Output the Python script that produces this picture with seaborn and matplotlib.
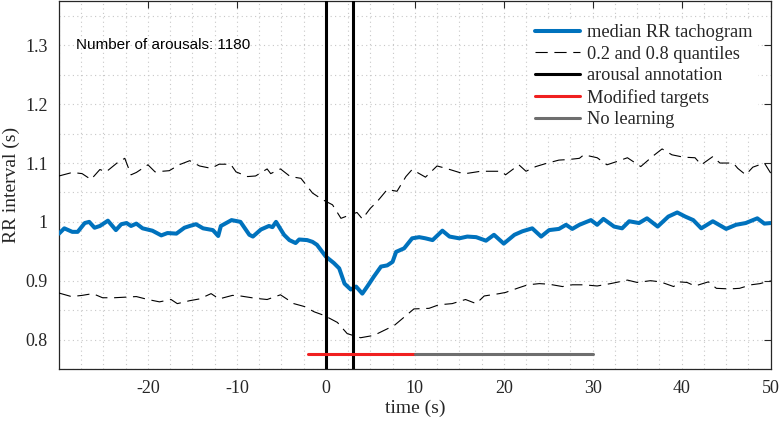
import numpy as np
import pandas as pd
import matplotlib
matplotlib.use("Agg")
import matplotlib.pyplot as plt
from matplotlib.ticker import MultipleLocator
import seaborn as sns

# median RR tachogram (time in s, RR in s)
med_t = [-30, -29.4, -28.5, -27.9, -27.1, -26.6, -26.0, -25.4, -24.5, -23.6, -23.0, -22.4,
         -21.9, -21.3, -20.6, -19.5, -18.5, -17.8, -16.8, -15.9, -15.3, -14.6, -13.8, -12.7,
         -12.1, -11.8, -10.6, -9.6, -8.6, -8.2, -7.3, -6.4, -6.0, -5.6, -4.7, -4.1, -3.4,
         -3.0, -2.1, -1.5, -1.0, 0.0, 0.9, 1.5, 2.1, 2.8, 3.4, 4.1, 4.7, 5.4, 6.2, 6.9, 7.5,
         7.9, 8.8, 9.7, 10.5, 11.2, 12.0, 13.1, 13.9, 15.0, 15.9, 16.9, 18.0, 18.9, 20.0,
         21.2, 22.1, 23.2, 24.2, 25.1, 26.2, 27.0, 27.7, 28.5, 29.8, 30.5, 31.2, 32.4, 33.3,
         34.1, 35.2, 36.1, 37.3, 38.5, 39.5, 40.4, 41.3, 42.2, 43.5, 45.0, 46.1, 47.2, 48.5,
         49.3, 50]
med_rr = [0.980, 0.989, 0.983, 0.983, 0.998, 1.000, 0.990, 0.993, 1.002, 0.986, 0.996, 0.998,
          0.993, 0.997, 0.989, 0.985, 0.977, 0.981, 0.980, 0.990, 0.993, 0.996, 0.989, 0.986,
          0.976, 0.993, 1.003, 1.000, 0.978, 0.975, 0.987, 0.993, 0.991, 1.000, 0.978, 0.969,
          0.964, 0.970, 0.969, 0.966, 0.961, 0.941, 0.930, 0.921, 0.895, 0.885, 0.890, 0.878,
          0.891, 0.907, 0.924, 0.926, 0.932, 0.949, 0.955, 0.972, 0.974, 0.972, 0.969, 0.985,
          0.975, 0.972, 0.975, 0.974, 0.968, 0.978, 0.963, 0.978, 0.984, 0.989, 0.975, 0.986,
          0.988, 0.995, 0.988, 0.995, 1.003, 0.995, 1.005, 0.992, 0.989, 1.001, 0.998, 1.006,
          0.992, 1.009, 1.016, 1.009, 1.003, 0.989, 1.001, 0.988, 0.995, 0.998, 1.006, 0.997,
          0.998]

# 0.8 quantile
q80_t = [-30, -28.5, -27.4, -26.4, -25.4, -24.7, -23.4, -22.6, -21.9, -21.3, -20.0, -19.2,
         -17.6, -16.5, -15.3, -14.2, -12.9, -12.0, -10.7, -10.1, -8.8, -7.9, -6.6, -6.2, -5.1,
         -4.0, -2.8, -1.5, -0.4, 0.75, 1.7, 2.4, 3.5, 4.1, 5.0, 5.8, 6.9, 8.0, 9.0, 9.7,
         11.2, 12.5, 13.5, 15.0, 15.7, 17.4, 18.4, 19.7, 20.2, 21.7, 22.5, 23.6, 24.7, 26.2,
         27.3, 28.5, 29.0, 30.5, 31.6, 32.8, 33.9, 35.4, 36.7, 37.8, 38.9, 40.2, 41.5, 42.2,
         43.5, 44.3, 45.8, 46.3, 47.2, 48.0, 49.3, 50]
q80_rr = [1.078, 1.084, 1.082, 1.072, 1.089, 1.085, 1.101, 1.108, 1.080, 1.084, 1.097, 1.085,
          1.087, 1.097, 1.104, 1.095, 1.091, 1.098, 1.098, 1.085, 1.077, 1.078, 1.090, 1.082,
          1.090, 1.077, 1.074, 1.049, 1.038, 1.029, 1.006, 1.010, 1.016, 1.005, 1.023, 1.035,
          1.055, 1.052, 1.077, 1.089, 1.076, 1.095, 1.091, 1.084, 1.082, 1.086, 1.086, 1.086,
          1.080, 1.097, 1.086, 1.094, 1.099, 1.105, 1.106, 1.108, 1.114, 1.109, 1.097, 1.103,
          1.109, 1.094, 1.111, 1.124, 1.114, 1.110, 1.109, 1.097, 1.111, 1.100, 1.100, 1.091,
          1.080, 1.093, 1.100, 1.083]

# 0.2 quantile
q20_t = [-30, -28.6, -27.4, -26.2, -25.1, -23.8, -22.5, -21.3, -20.0, -18.7, -17.4, -16.7,
         -15.3, -14.2, -12.9, -12.0, -10.5, -9.6, -7.9, -6.6, -5.1, -3.6, -2.4, -1.3, -0.2,
         1.3, 2.4, 3.9, 5.4, 7.7, 9.9, 11.6, 12.7, 14.2, 15.7, 16.9, 17.8, 19.5, 20.2, 21.7,
         22.7, 24.0, 25.1, 26.6, 27.7, 29.0, 30.5, 32.0, 33.9, 35.0, 36.5, 37.6, 39.1, 39.7,
         40.6, 41.5, 43.0, 43.9, 45.4, 46.5, 47.8, 48.8, 50]
q20_rr = [0.879, 0.873, 0.875, 0.878, 0.871, 0.871, 0.872, 0.873, 0.868, 0.864, 0.868, 0.861,
          0.866, 0.869, 0.878, 0.869, 0.875, 0.874, 0.870, 0.868, 0.876, 0.861, 0.856, 0.847,
          0.841, 0.829, 0.810, 0.803, 0.807, 0.824, 0.852, 0.853, 0.859, 0.861, 0.868, 0.861,
          0.874, 0.878, 0.880, 0.888, 0.893, 0.895, 0.894, 0.890, 0.893, 0.893, 0.891, 0.895,
          0.901, 0.897, 0.900, 0.898, 0.890, 0.898, 0.897, 0.891, 0.898, 0.887, 0.886, 0.887,
          0.893, 0.895, 0.900]

arousal_marks = [0, 3]
modified_span = [-2, 10]
nolearn_span = [10, 30]
target_level = 0.775
n_arousals = 1180

med = pd.DataFrame({"t": med_t, "rr": med_rr})
q80 = pd.DataFrame({"t": q80_t, "rr": q80_rr})
q20 = pd.DataFrame({"t": q20_t, "rr": q20_rr})

sns.set_style("white")
plt.rcParams["font.family"] = ["Liberation Serif", "DejaVu Serif"]
plt.rcParams["xtick.direction"] = "in"
plt.rcParams["ytick.direction"] = "in"

fig = plt.figure(figsize=(7.8, 4.26), dpi=100)
ax = fig.add_axes([0.0756, 0.134, 0.9124, 0.863])

dash = (0, (11, 6))
sns.lineplot(data=med, x="t", y="rr", ax=ax, color="#0072BD", lw=2.9, sort=False,
             label="median RR tachogram", zorder=4)
sns.lineplot(data=q80, x="t", y="rr", ax=ax, color="black", lw=0.8, sort=False,
             label="0.2 and 0.8 quantiles", zorder=3)
sns.lineplot(data=q20, x="t", y="rr", ax=ax, color="black", lw=0.8, sort=False, zorder=3)
for ln in ax.lines[1:3]:
    ln.set_linestyle(dash)
for i, xa in enumerate(arousal_marks):
    ax.axvline(xa, color="black", lw=2.2, zorder=5,
               label="arousal annotation" if i == 0 else None)
ax.plot(modified_span, [target_level] * 2, color="#F02020", lw=2.2, label="Modified targets", zorder=6)
ax.plot(nolearn_span, [target_level] * 2, color="#6E6E6E", lw=2.2, label="No learning", zorder=6)

ax.set_xlim(-30, 50)
ax.set_ylim(0.75, 1.375)
ax.xaxis.set_minor_locator(MultipleLocator(2.5))
ax.yaxis.set_minor_locator(MultipleLocator(0.05))
ax.set_xticks([-20, -10, 0, 10, 20, 30, 40, 50])
ax.set_xticklabels(["-20", "-10", "0", "10", "20", "30", "40", "50"])
ax.set_yticks([0.8, 0.9, 1.0, 1.1, 1.2, 1.3])
ax.set_yticklabels(["0.8", "0.9", "1", "1.1", "1.2", "1.3"])
ax.tick_params(which="major", top=True, right=True, length=5, width=0.8, labelsize=13,
               color="#262626", labelcolor="#262626", pad=8)
ax.tick_params(which="minor", length=0)
ax.grid(which="both", color="#c8c8c8", ls=(0, (1, 3)), lw=0.8)
for s in ax.spines.values():
    s.set_color("#262626")
    s.set_linewidth(0.9)
ax.set_xlabel("time (s)", fontsize=14, color="#262626", labelpad=2)
ax.set_ylabel("RR interval (s)", fontsize=14, color="#262626", labelpad=4)

ax.text(-28.1, 1.3, f"Number of arousals: {n_arousals}", family="Liberation Sans",
        fontsize=11, va="center", ha="left", color="black")

leg = ax.legend(loc="upper right", bbox_to_anchor=(0.995, 0.978), fontsize=13.2,
                frameon=True, framealpha=1, edgecolor="white", fancybox=False,
                handlelength=2.5, handletextpad=0.35, labelspacing=0.25, borderpad=0.3)
leg.get_frame().set_linewidth(0)

fig.savefig("out.png", dpi=100)
